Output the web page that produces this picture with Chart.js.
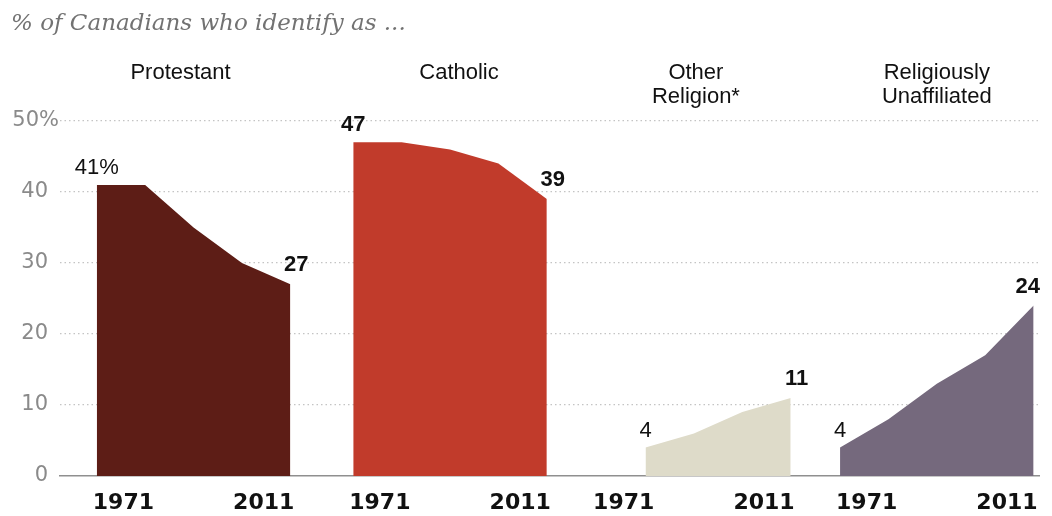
<!DOCTYPE html>
<html lang="en">
<head>
  <meta charset="UTF-8" />
  <title>Religion in Canada</title>
  <script src="https://cdn.jsdelivr.net/npm/chart.js"></script>
  <style>
    html, body {
      margin: 0;
      padding: 0;
      background: #ffffff;
    }

    .grafica {
      position: relative;
      width: 1052px;
      height: 516px;
    }
  </style>
</head>
<body>
  <div class="grafica">
    <canvas id="miCanvas" width="1052" height="516"></canvas>
  </div>

  <script>
    // census years, share of Canadians (%)
    const years = [1971, 1981, 1991, 2001, 2011];
    const groups = ["Protestant", "Catholic", ["Other", "Religion*"], ["Religiously", "Unaffiliated"]];
    const protestant = [41, 41, 35, 30, 27];
    const catholic = [47, 47, 46, 44, 39];
    const otherReligion = [null, 4, 6, 9, 11];
    const unaffiliated = [4, 8, 13, 17, 24];
    const yTicks = [0, 10, 20, 30, 40, 50];
    const yearTicks = [1971, 2011];

    // each panel is shifted along one shared x axis (in years)
    const panelShift = [0, 53, 103.4, 153.6];
    const titleNudge = [-13, 9, 2, 0];
    const colores = ["#5d1d16", "#c13b2b", "#dedbc9", "#75697d"];
    const boldFirst = [false, true, false, false];
    const fuente = "'Liberation Sans', Arial, sans-serif";
    const fuenteNum = "'DejaVu Sans', sans-serif";

    const series = [protestant, catholic, otherReligion, unaffiliated];

    const toPoints = (values, i) =>
      years.map((yr, k) => ({ x: yr - years[0] + panelShift[i], y: values[k] }));

    // tick positions for the 1971 / 2011 labels under each panel
    const tickLabels = {};
    panelShift.forEach((s) => {
      tickLabels[(s + 5.5).toFixed(2)] = yearTicks[0];
      tickLabels[(s + 34.5).toFixed(2)] = yearTicks[1];
    });

    const labelsPlugin = {
      id: "valueLabels",
      afterDatasetsDraw(chart) {
        const ctx = chart.ctx;
        const area = chart.chartArea;
        ctx.save();
        ctx.fillStyle = "#111";
        ctx.textAlign = "center";
        ctx.textBaseline = "alphabetic";
        chart.data.datasets.forEach((ds, i) => {
          const meta = chart.getDatasetMeta(i);
          const idx = ds.data.map((p, k) => (p.y === null ? -1 : k)).filter((k) => k >= 0);
          const first = idx[0];
          const last = idx[idx.length - 1];
          const p0 = meta.data[first];
          const p1 = meta.data[last];

          let txt = String(ds.data[first].y) + (i === 0 ? "%" : "");
          ctx.font = (boldFirst[i] ? "bold " : "") + "22px " + fuente;
          ctx.fillText(txt, p0.x, p0.y - 11);

          ctx.font = "bold 22px " + fuente;
          txt = String(ds.data[last].y);
          const w = ctx.measureText(txt).width;
          const cx = Math.min(p1.x + 6, area.right - w / 2);
          ctx.fillText(txt, cx, Math.min(p1.y - 13, p1.y - 9));
        });
        ctx.restore();
      }
    };

    const headerPlugin = {
      id: "headers",
      afterDraw(chart) {
        const ctx = chart.ctx;
        const x = chart.scales.x;
        const y = chart.scales.y;
        ctx.save();
        ctx.fillStyle = "#727272";
        ctx.font = "italic 23px 'DejaVu Serif', Georgia, serif";
        ctx.textAlign = "left";
        ctx.textBaseline = "alphabetic";
        ctx.fillText("% of Canadians who identify as ...", 11, 30);

        ctx.fillStyle = "#111";
        ctx.font = "22px " + fuente;
        ctx.textAlign = "center";
        groups.forEach((g, i) => {
          const cx = x.getPixelForValue(panelShift[i] + 20) + titleNudge[i];
          const lines = Array.isArray(g) ? g : [g];
          lines.forEach((ln, k) => ctx.fillText(ln, cx, 79 + k * 24));
        });

        // top tick carries the percent sign
        ctx.fillStyle = "#8a8a8a";
        ctx.font = "21px " + fuenteNum;
        ctx.textAlign = "right";
        ctx.textBaseline = "middle";
        ctx.fillText(yTicks[yTicks.length - 1] + "%", 59, y.getPixelForValue(yTicks[yTicks.length - 1]));
        ctx.restore();
      }
    };

    const miCanvas = document.getElementById("miCanvas").getContext("2d");
    window.miCanva = new Chart(miCanvas, {
      type: "line",
      data: {
        datasets: series.map((values, i) => ({
          label: Array.isArray(groups[i]) ? groups[i].join(" ") : groups[i],
          data: toPoints(values, i),
          backgroundColor: colores[i],
          borderColor: colores[i],
          borderWidth: 0,
          pointRadius: 0,
          tension: 0,
          fill: "origin"
        }))
      },
      options: {
        responsive: false,
        animation: false,
        layout: { padding: { top: 121, right: 12, left: 0, bottom: 0 } },
        plugins: {
          legend: { display: false },
          title: { display: false },
          tooltip: { enabled: false }
        },
        scales: {
          x: {
            type: "linear",
            min: -7.6,
            max: 194.9,
            afterFit: (scale) => { scale.height = 40; },
            afterBuildTicks: (scale) => {
              scale.ticks = Object.keys(tickLabels).map((v) => ({ value: parseFloat(v) }));
            },
            grid: { display: false, drawTicks: false },
            border: { display: true, color: "#8f8f8f", width: 1.5 },
            ticks: {
              autoSkip: false,
              maxRotation: 0,
              padding: 14,
              color: "#111",
              font: { family: fuenteNum, size: 22, weight: "bold" },
              callback: (v) => tickLabels[Number(v).toFixed(2)]
            }
          },
          y: {
            min: 0,
            max: 50,
            afterFit: (scale) => { scale.width = 60; },
            afterBuildTicks: (scale) => {
              scale.ticks = yTicks.map((v) => ({ value: v }));
            },
            grid: {
              drawTicks: false,
              color: (c) => (c.tick && c.tick.value === 0 ? "rgba(0,0,0,0)" : "#c4c4c4"),
              lineWidth: 1.2
            },
            border: { display: false, dash: [1.5, 3] },
            ticks: {
              padding: 12,
              color: "#8a8a8a",
              font: { family: fuenteNum, size: 21 },
              callback: (v) => (v === yTicks[yTicks.length - 1] ? "" : v)
            }
          }
        }
      },
      plugins: [labelsPlugin, headerPlugin]
    });
  </script>
</body>
</html>
